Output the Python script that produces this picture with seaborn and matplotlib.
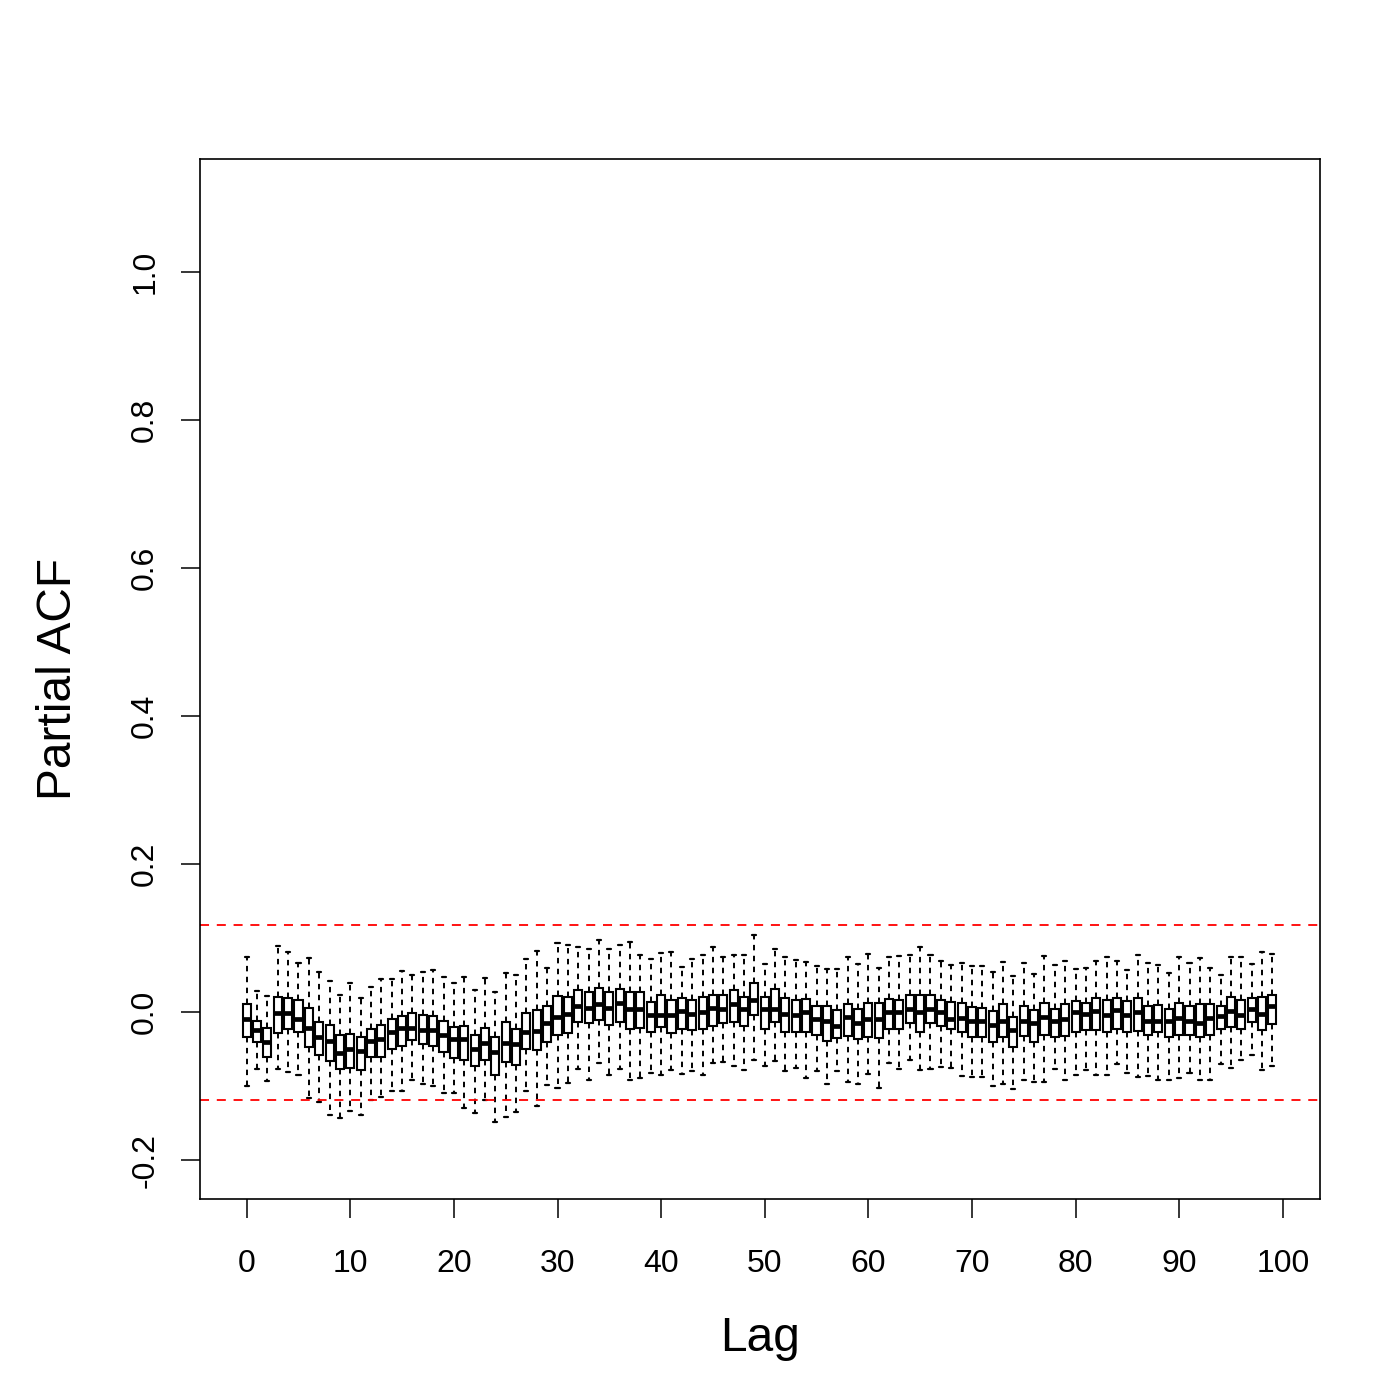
import numpy as np
import pandas as pd
from matplotlib import pyplot as plt
from matplotlib.ticker import FormatStrFormatter
import seaborn as sns

sns.set_style("ticks")
plt.rcParams['font.family'] = ['Liberation Sans', 'DejaVu Sans']
plt.rcParams['axes.unicode_minus'] = False
plt.rcParams['text.color'] = 'black'
plt.rcParams['axes.labelcolor'] = 'black'

# boxplot summaries of the partial ACF per lag
lags = list(range(100))
whisker_low = [
    -0.100, -0.076, -0.093, -0.077, -0.080, -0.085, -0.116, -0.121, -0.138, -0.143,
    -0.133, -0.139, -0.118, -0.114, -0.106, -0.106, -0.091, -0.097, -0.100, -0.109,
    -0.109, -0.129, -0.136, -0.118, -0.148, -0.141, -0.134, -0.106, -0.127, -0.098,
    -0.102, -0.096, -0.077, -0.091, -0.069, -0.085, -0.077, -0.091, -0.089, -0.082,
    -0.084, -0.078, -0.083, -0.079, -0.085, -0.069, -0.067, -0.073, -0.078, -0.064,
    -0.073, -0.066, -0.079, -0.075, -0.089, -0.079, -0.097, -0.079, -0.094, -0.097,
    -0.083, -0.102, -0.069, -0.076, -0.064, -0.078, -0.076, -0.074, -0.075, -0.086,
    -0.088, -0.087, -0.100, -0.097, -0.103, -0.091, -0.094, -0.094, -0.077, -0.091,
    -0.084, -0.078, -0.084, -0.084, -0.070, -0.082, -0.087, -0.086, -0.091, -0.091,
    -0.089, -0.082, -0.092, -0.091, -0.070, -0.075, -0.064, -0.058, -0.078, -0.072]
q1 = [
    -0.034, -0.040, -0.060, -0.028, -0.023, -0.027, -0.047, -0.057, -0.066, -0.076,
    -0.075, -0.078, -0.061, -0.060, -0.050, -0.046, -0.038, -0.043, -0.046, -0.054,
    -0.062, -0.064, -0.073, -0.065, -0.084, -0.067, -0.071, -0.050, -0.051, -0.040,
    -0.031, -0.028, -0.013, -0.015, -0.011, -0.017, -0.013, -0.023, -0.021, -0.026,
    -0.020, -0.028, -0.022, -0.024, -0.023, -0.019, -0.015, -0.013, -0.019, -0.004,
    -0.022, -0.013, -0.027, -0.027, -0.027, -0.030, -0.039, -0.035, -0.032, -0.036,
    -0.034, -0.035, -0.023, -0.022, -0.015, -0.026, -0.015, -0.018, -0.022, -0.027,
    -0.033, -0.034, -0.040, -0.034, -0.047, -0.032, -0.040, -0.030, -0.033, -0.032,
    -0.026, -0.024, -0.024, -0.027, -0.023, -0.027, -0.025, -0.031, -0.026, -0.033,
    -0.031, -0.031, -0.033, -0.030, -0.023, -0.020, -0.022, -0.013, -0.024, -0.016]
median = [
    -0.009, -0.024, -0.040, -0.001, -0.001, -0.009, -0.021, -0.033, -0.039, -0.055,
    -0.049, -0.052, -0.039, -0.036, -0.027, -0.021, -0.021, -0.024, -0.024, -0.031,
    -0.036, -0.036, -0.049, -0.041, -0.054, -0.041, -0.043, -0.027, -0.025, -0.014,
    -0.007, -0.002, 0.009, 0.006, 0.011, 0.006, 0.013, 0.004, 0.004, -0.004,
    -0.003, -0.003, 0.002, -0.002, 0.001, 0.006, 0.005, 0.011, 0.004, 0.016,
    0.004, 0.005, -0.002, -0.003, 0.001, -0.009, -0.012, -0.018, -0.006, -0.014,
    -0.009, -0.009, 0.000, 0.000, 0.004, 0.000, 0.005, 0.000, -0.009, -0.008,
    -0.012, -0.012, -0.017, -0.012, -0.024, -0.012, -0.015, -0.007, -0.012, -0.009,
    0.000, -0.002, 0.002, -0.004, 0.003, -0.003, 0.000, -0.012, -0.012, -0.012,
    -0.008, -0.012, -0.014, -0.008, -0.005, 0.002, -0.003, 0.004, -0.002, 0.009]
q3 = [
    0.011, -0.012, -0.021, 0.021, 0.019, 0.016, 0.006, -0.013, -0.017, -0.030,
    -0.029, -0.033, -0.023, -0.017, -0.009, -0.005, -0.001, -0.004, -0.005, -0.012,
    -0.020, -0.018, -0.030, -0.021, -0.034, -0.013, -0.022, -0.001, 0.003, 0.009,
    0.022, 0.021, 0.030, 0.028, 0.033, 0.027, 0.032, 0.027, 0.027, 0.014,
    0.023, 0.017, 0.019, 0.016, 0.020, 0.023, 0.023, 0.030, 0.020, 0.040,
    0.020, 0.031, 0.019, 0.016, 0.018, 0.009, 0.009, 0.003, 0.011, 0.005,
    0.012, 0.012, 0.018, 0.017, 0.023, 0.023, 0.024, 0.016, 0.014, 0.013,
    0.007, 0.006, 0.002, 0.011, -0.007, 0.008, 0.003, 0.013, 0.005, 0.011,
    0.015, 0.012, 0.019, 0.017, 0.019, 0.015, 0.019, 0.009, 0.010, 0.005,
    0.012, 0.009, 0.011, 0.011, 0.009, 0.020, 0.016, 0.019, 0.020, 0.024]
whisker_high = [
    0.075, 0.029, 0.022, 0.089, 0.081, 0.066, 0.073, 0.054, 0.042, 0.023,
    0.039, 0.019, 0.034, 0.045, 0.045, 0.056, 0.051, 0.055, 0.057, 0.047,
    0.039, 0.048, 0.030, 0.046, 0.027, 0.053, 0.051, 0.072, 0.083, 0.060,
    0.093, 0.091, 0.088, 0.086, 0.098, 0.086, 0.091, 0.095, 0.077, 0.072,
    0.080, 0.082, 0.061, 0.072, 0.077, 0.088, 0.075, 0.078, 0.077, 0.105,
    0.065, 0.086, 0.075, 0.070, 0.068, 0.063, 0.058, 0.058, 0.075, 0.065,
    0.079, 0.060, 0.074, 0.076, 0.077, 0.088, 0.077, 0.069, 0.064, 0.066,
    0.062, 0.063, 0.055, 0.068, 0.049, 0.066, 0.052, 0.076, 0.064, 0.069,
    0.058, 0.060, 0.069, 0.074, 0.069, 0.057, 0.078, 0.066, 0.064, 0.053,
    0.074, 0.066, 0.073, 0.060, 0.050, 0.075, 0.075, 0.065, 0.081, 0.079]
conf_bound = 0.118

# long form: five points per lag give exactly these quartiles / extremes
frame = pd.DataFrame({
    "lag": np.repeat(lags, 5),
    "pacf": np.column_stack([whisker_low, q1, median, q3, whisker_high]).ravel(),
})

fig = plt.figure(figsize=(14, 14), dpi=100)
ax = fig.add_axes([0.1429, 0.1436, 0.8, 0.7428])

sns.boxplot(data=frame, x="lag", y="pacf", native_scale=True, whis=(0, 100),
            width=0.78, color="white", saturation=1, linecolor="black",
            linewidth=1.5, fliersize=0, ax=ax,
            boxprops={"edgecolor": "black", "linewidth": 1.5},
            whiskerprops={"color": "black", "linewidth": 1.4, "linestyle": (0, (2.8, 2.8))},
            capprops={"color": "black", "linewidth": 1.6},
            medianprops={"color": "black", "linewidth": 3.4})

ax.axhline(conf_bound, color="red", linewidth=1.3, linestyle=(0, (5.0, 4.3)))
ax.axhline(-conf_bound, color="red", linewidth=1.3, linestyle=(0, (5.0, 4.3)))

ax.set_xlim(-4.5, 103.6)
ax.set_ylim(-0.252, 1.152)
ax.set_xticks(range(0, 101, 10))
ax.set_yticks([-0.2, 0.0, 0.2, 0.4, 0.6, 0.8, 1.0])
ax.yaxis.set_major_formatter(FormatStrFormatter('%.1f'))
ax.xaxis.set_major_formatter(FormatStrFormatter('%d'))

for side in ["top", "bottom", "left", "right"]:
    ax.spines[side].set_visible(True)
    ax.spines[side].set_color("black")
    ax.spines[side].set_linewidth(1.2)

ax.tick_params(axis="both", direction="out", length=13.7, width=1.1, color="black",
               labelsize=23, labelcolor="black")
ax.tick_params(axis="x", pad=22)
ax.tick_params(axis="y", pad=15, labelrotation=90)
for lab in ax.get_yticklabels():
    lab.set_va("center")

ax.set_xlabel("Lag", fontsize=34.5, color="black")
ax.set_ylabel("Partial ACF", fontsize=34.5, color="black")
ax.xaxis.set_label_coords(0.5, -0.113)
ax.yaxis.set_label_coords(-0.106, 0.5)

fig.savefig("out.png", dpi=100, facecolor="white")
